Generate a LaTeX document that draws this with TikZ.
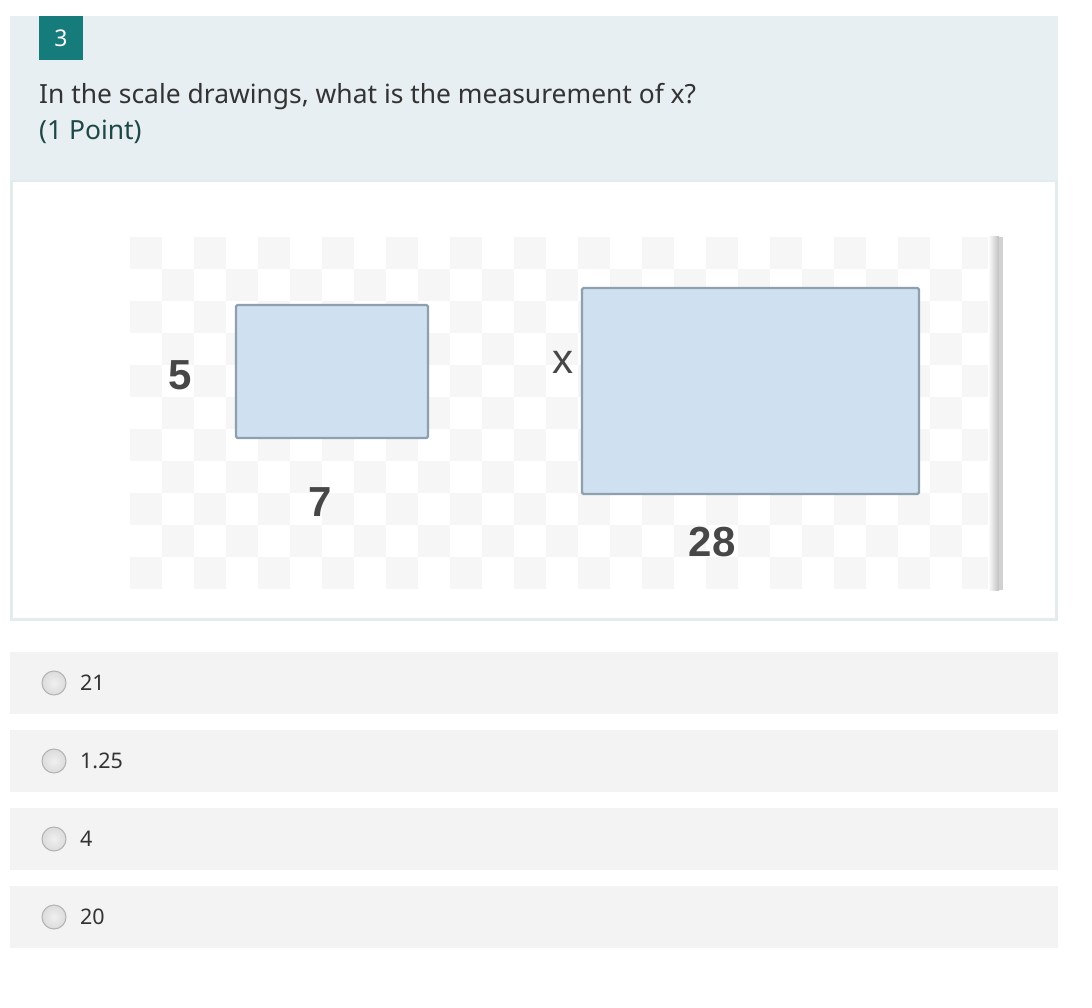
\documentclass[tikz,border=0pt]{standalone}
\usepackage{fontspec}
\setmainfont{Noto Sans}
\newfontfamily\figfont{Liberation Sans}
\definecolor{hdrbg}{HTML}{E8EFF2}
\definecolor{teal}{HTML}{167B7B}
\definecolor{qtext}{HTML}{333333}
\definecolor{ptext}{HTML}{1E4848}
\definecolor{chk}{HTML}{F6F6F6}
\definecolor{rfill}{HTML}{CFE1F1}
\definecolor{rline}{HTML}{8E9FAE}
\definecolor{optbg}{HTML}{F3F3F3}
\definecolor{panelline}{HTML}{E2ECEF}
\tikzset{
  shape1/.style={draw=rline, line width=2.2pt, fill=rfill, rounded corners=1.5pt},
  dimlab/.style={font=\figfont\bfseries\fontsize{42}{46}\selectfont, text=qtext!90, inner sep=0pt},
  optbox/.style={fill=optbg, draw=none},
  radio/.style={circle, minimum size=24pt, inner sep=0pt, draw=black!30, line width=1pt, inner color=black!6, outer color=black!14},
  opttext/.style={anchor=west, font=\fontsize{21.5}{24}\selectfont, text=qtext, inner sep=0pt}
}
\begin{document}
\begin{tikzpicture}[x=1pt,y=-1pt]
\useasboundingbox (0,0) rectangle (1092,1008);
\fill[white] (0,0) rectangle (1092,1008);
% header
\fill[hdrbg] (10,16) rectangle (1058,182);
\node[fill=teal, minimum width=44pt, minimum height=44pt, inner sep=0pt, text=white, font=\fontsize{23}{26}\selectfont] (badge) at (61,38) {3};
\node[anchor=base west, inner sep=0pt, text=qtext, font=\fontsize{26.4}{30}\selectfont] (q) at (39,104) {In the scale drawings, what is the measurement of x?};
\node[anchor=base west, inner sep=0pt, text=ptext, font=\fontsize{26.4}{30}\selectfont] (pts) at (39,140) {(1 Point)};
% image panel
\draw[panelline, line width=3pt] (11.5,182) rectangle (1056.5,619);
\fill[white] (13,182) rectangle (1055,617.5);
% checkerboard
\foreach \i in {0,...,26}{
  \foreach \j in {0,...,10}{
    \pgfmathtruncatemacro{\cpar}{mod(\i+\j,2)}
    \ifnum\cpar=0
      \fill[chk] ({130+\i*32},{237+\j*32}) rectangle ({130+\i*32+32},{237+\j*32+32});
    \fi
  }
}
\fill[white] (990,237) rectangle (1004,590);
\shade[left color=white, right color=black!25] (988,237) rectangle (999,590);
\fill[black!18] (999,237) rectangle (1003,590);
% rectangles
\draw[shape1] (236,305) rectangle (428,438);
\draw[shape1] (582,288) rectangle (919,494);
\node[dimlab] (five) at (180,375) {5};
\node[dimlab] (seven) at (320,502) {7};
\node[dimlab, font=\figfont\fontsize{42}{46}\selectfont] (xlab) at (563,362) {x};
\node[dimlab] (twentyeight) at (712,542) {28};
% options
\foreach \y/\t/\n in {652/21/a, 730/1.25/b, 808/4/c, 886/20/d}{
  \fill[optbg] (10,\y) rectangle (1058,\y+62);
  \node[radio] (r\n) at (54,\y+31) {};
  \node[opttext] (t\n) at (80,\y+31) {\t};
}
\end{tikzpicture}
\end{document}
